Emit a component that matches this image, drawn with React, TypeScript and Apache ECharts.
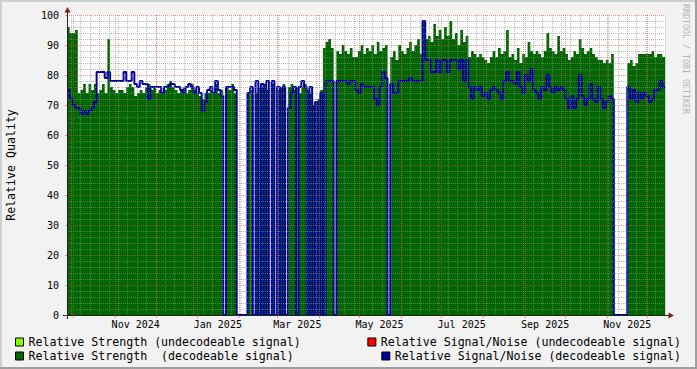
import React, { useEffect, useRef } from "react";
import * as echarts from "echarts";

// ---- time frame: one value every 2 days, starting Sep 26 2024 ----
const START_UTC = Date.UTC(2024, 8, 26);
const TOTAL_DAYS = 444;
const STEP_DAYS = 2;

// Relative Strength (decodeable signal), one value per 2-day step
const strengthDecodeable: number[] = [
  96, 94, 94, 95, 74, 75, 77, 74, 77, 75,
  77, 74, 75, 77, 74, 92, 76, 75, 74, 75,
  75, 74, 76, 77, 76, 73, 74, 75, 74, 76,
  77, 75, 76, 74, 75, 74, 75, 77, 78, 76,
  75, 74, 75, 76, 74, 75, 77, 75, 74, 73,
  72, 74, 74, 75, 74, 77, 74, 75, 0, 76,
  75, 77, 74, 0, 0, 0, 0, 74, 75, 0,
  74, 76, 76, 77, 75, 0, 77, 0, 75, 76,
  77, 0, 76, 77, 75, 76, 74, 76, 77, 75,
  74, 70, 71, 72, 75, 89, 91, 92, 89, 0,
  88, 87, 90, 88, 87, 89, 86, 86, 88, 90,
  87, 89, 88, 90, 87, 91, 88, 89, 90, 0,
  86, 88, 85, 90, 88, 87, 89, 91, 88, 90,
  92, 87, 98, 92, 93, 91, 97, 93, 95, 92,
  96, 93, 98, 92, 94, 90, 95, 91, 93, 86,
  88, 87, 86, 87, 86, 85, 84, 86, 88, 86,
  89, 87, 88, 95, 86, 87, 85, 89, 84, 87,
  86, 91, 88, 87, 88, 87, 86, 88, 94, 89,
  88, 87, 93, 88, 89, 87, 85, 86, 88, 87,
  92, 89, 87, 88, 89, 87, 86, 85, 85, 84,
  85, 84, 87, 0, 0, 0, 0, 0, 84, 85,
  83, 84, 87, 87, 87, 87, 87, 88, 86, 87, 87, 86,
];

// Relative Signal/Noise (decodeable signal), one value per 2-day step
const snrDecodeable: number[] = [
  75, 72, 70, 69, 69, 67, 68, 67, 68, 69,
  71, 81, 81, 81, 79, 81, 78, 78, 78, 78,
  78, 81, 78, 78, 81, 77, 76, 78, 77, 77,
  72, 76, 76, 76, 76, 74, 76, 76, 77, 77,
  76, 76, 75, 74, 76, 77, 76, 74, 76, 74,
  68, 71, 75, 76, 74, 78, 75, 73, 0, 76,
  76, 76, 75, 0, 0, 0, 0, 74, 76, 0,
  78, 0, 77, 0, 78, 0, 78, 0, 76, 0,
  76, 0, 69, 74, 76, 0, 76, 78, 76, 0,
  76, 0, 71, 0, 74, 0, 78, 78, 78, 0,
  78, 78, 78, 78, 77, 78, 78, 75, 74, 77,
  76, 76, 76, 76, 72, 70, 76, 81, 79, 0,
  77, 74, 74, 78, 78, 78, 78, 79, 78, 78,
  78, 78, 98, 85, 85, 81, 81, 85, 81, 85,
  85, 81, 85, 85, 85, 82, 85, 78, 85, 76,
  72, 76, 75, 76, 73, 74, 72, 75, 76, 75,
  74, 72, 78, 81, 78, 78, 77, 81, 76, 74,
  80, 78, 82, 75, 74, 72, 76, 75, 80, 76,
  74, 76, 75, 76, 75, 72, 69, 73, 69, 72,
  80, 73, 70, 72, 77, 72, 71, 76, 72, 69,
  71, 73, 72, 0, 0, 0, 0, 0, 76, 72,
  75, 71, 74, 72, 74, 73, 71, 72, 75, 75, 78, 76,
];

// undecodeable signal series carry no data in this period
const strengthUndecodeable: number[] = [];
const snrUndecodeable: number[] = [];

const seriesNames = [
  "Relative Strength (undecodeable signal)",
  "Relative Signal/Noise (undecodeable signal)",
  "Relative Strength  (decodeable signal)",
  "Relative Signal/Noise (decodeable signal)",
];
const seriesColors = ["#80FF00", "#FF0000", "#006600", "#0000A0"];
const monthNames = ["Jan", "Feb", "Mar", "Apr", "May", "Jun", "Jul", "Aug", "Sep", "Oct", "Nov", "Dec"];

const FONT = "'DejaVu Sans Mono', monospace";
const MINOR_GRID = "rgba(143,143,143,0.6)";
const MAJOR_GRID = "rgba(222,79,79,0.6)";

const dayDates: Date[] = Array.from({ length: TOTAL_DAYS + 1 }, (_, k) => new Date(START_UTC + k * 86400000));
const dayCats: string[] = dayDates.map((d) => d.toISOString().slice(0, 10));

function toSteps(vals: number[]): number[][] {
  if (!vals.length) return [];
  const pts = vals.map((v, i) => [i * STEP_DAYS, v]);
  pts.push([vals.length * STEP_DAYS, vals[vals.length - 1]]);
  return pts;
}

export default function App() {
  const ref = useRef<HTMLDivElement>(null);
  useEffect(() => {
    if (!ref.current) return;
    const chart = echarts.init(ref.current, undefined, { renderer: "svg" });
    const isMonthStart = (i: number) => dayDates[i].getUTCDate() === 1;
    const isWeekStart = (i: number) => dayDates[i].getUTCDay() === 0;
    const isLabelDay = (i: number) => dayDates[i].getUTCDate() === 16 && dayDates[i].getUTCMonth() % 2 === 0;

    const legendBase = {
      icon: "rect",
      itemWidth: 8,
      itemHeight: 8,
      padding: 0,
      selectedMode: false,
      textStyle: { fontFamily: FONT, fontSize: 11.6, color: "#000" },
    };
    const legendItem = (k: number) => ({
      name: seriesNames[k],
      itemStyle: { color: seriesColors[k], borderColor: "#000", borderWidth: 1 },
    });

    chart.setOption({
      animation: false,
      backgroundColor: "#F2F2F2",
      grid: { left: 67, top: 15, width: 598, height: 300, show: true, backgroundColor: "#FFFFFF", borderWidth: 0 },
      xAxis: [
        { type: "value", position: "bottom", min: 0, max: TOTAL_DAYS, show: false },
        {
          type: "category",
          position: "bottom",
          data: dayCats,
          boundaryGap: false,
          z: 6,
          axisLine: { show: true, onZero: false, lineStyle: { color: "#222", width: 1 } },
          axisTick: { show: true, length: 3, interval: (i: number) => isMonthStart(i), lineStyle: { color: MAJOR_GRID } },
          axisLabel: {
            show: true,
            interval: (i: number) => isLabelDay(i),
            margin: 4,
            fontFamily: FONT,
            fontSize: 10,
            color: "#000",
            formatter: (v: string) => {
              const d = new Date(v + "T00:00:00Z");
              return monthNames[d.getUTCMonth()] + " " + d.getUTCFullYear();
            },
          },
          splitLine: { show: true, interval: (i: number) => isMonthStart(i), lineStyle: { color: MAJOR_GRID, type: [1, 1], width: 1 } },
        },
        {
          type: "category",
          position: "bottom",
          data: dayCats,
          boundaryGap: false,
          z: 5,
          axisLine: { show: false, onZero: false },
          axisTick: { show: false },
          axisLabel: { show: false },
          splitLine: { show: true, interval: (i: number) => isWeekStart(i), lineStyle: { color: MINOR_GRID, type: [1, 1], width: 1 } },
        },
      ],
      yAxis: {
        type: "value",
        position: "left",
        min: 0,
        max: 100,
        interval: 10,
        z: 6,
        axisLine: { show: true, lineStyle: { color: "#222", width: 1 } },
        axisTick: { show: true, length: 2, lineStyle: { color: MAJOR_GRID } },
        axisLabel: { margin: 8, fontFamily: FONT, fontSize: 10, color: "#000" },
        splitLine: { show: true, lineStyle: { color: MAJOR_GRID, type: [1, 1], width: 1 } },
        minorTick: { show: false, splitNumber: 5 },
        minorSplitLine: { show: true, lineStyle: { color: MINOR_GRID, type: [1, 1], width: 1 } },
      },
      legend: [
        { ...legendBase, left: 15, top: 336, data: [legendItem(0)] },
        { ...legendBase, right: 16, top: 336, data: [legendItem(1)] },
        { ...legendBase, left: 15, top: 350, data: [legendItem(2)] },
        { ...legendBase, right: 16, top: 350, data: [legendItem(3)] },
      ],
      series: [
        {
          name: seriesNames[2],
          type: "line",
          step: "end",
          xAxisIndex: 0,
          data: toSteps(strengthDecodeable),
          showSymbol: false,
          lineStyle: { width: 0, color: seriesColors[2] },
          itemStyle: { color: seriesColors[2] },
          areaStyle: { color: seriesColors[2], opacity: 1 },
          z: 2,
        },
        {
          name: seriesNames[0],
          type: "line",
          step: "end",
          xAxisIndex: 0,
          data: toSteps(strengthUndecodeable),
          showSymbol: false,
          lineStyle: { width: 0, color: seriesColors[0] },
          itemStyle: { color: seriesColors[0] },
          areaStyle: { color: seriesColors[0], opacity: 1 },
          z: 2,
        },
        {
          name: seriesNames[1],
          type: "line",
          step: "end",
          xAxisIndex: 0,
          data: toSteps(snrUndecodeable),
          showSymbol: false,
          lineStyle: { width: 2, color: seriesColors[1] },
          itemStyle: { color: seriesColors[1] },
          z: 3,
        },
        {
          name: seriesNames[3],
          type: "line",
          step: "end",
          xAxisIndex: 0,
          data: toSteps(snrDecodeable),
          showSymbol: false,
          lineStyle: { width: 2, color: seriesColors[3] },
          itemStyle: { color: seriesColors[3] },
          z: 3,
        },
      ],
      graphic: [
        { type: "rect", silent: true, shape: { x: 0, y: 0, width: 697, height: 2 }, style: { fill: "#CFCFCF" } },
        { type: "rect", silent: true, shape: { x: 0, y: 0, width: 2, height: 369 }, style: { fill: "#CFCFCF" } },
        { type: "rect", silent: true, shape: { x: 0, y: 367, width: 697, height: 2 }, style: { fill: "#9E9E9E" } },
        { type: "rect", silent: true, shape: { x: 695, y: 0, width: 2, height: 369 }, style: { fill: "#9E9E9E" } },
        { type: "line", silent: true, shape: { x1: 67.5, y1: 15, x2: 67.5, y2: 10 }, style: { stroke: "#222", lineWidth: 1 } },
        { type: "line", silent: true, shape: { x1: 67.5, y1: 315, x2: 67.5, y2: 319 }, style: { stroke: "#222", lineWidth: 1 } },
        { type: "line", silent: true, shape: { x1: 63, y1: 315.5, x2: 67, y2: 315.5 }, style: { stroke: "#222", lineWidth: 1 } },
        { type: "line", silent: true, shape: { x1: 665, y1: 315.5, x2: 669, y2: 315.5 }, style: { stroke: "#222", lineWidth: 1 } },
        { type: "polygon", silent: true, shape: { points: [[64.5, 12.5], [70.5, 12.5], [67.5, 7]] }, style: { fill: "#801F1F" } },
        { type: "polygon", silent: true, shape: { points: [[668.5, 312.5], [668.5, 318.5], [674, 315.5]] }, style: { fill: "#801F1F" } },
        {
          type: "text",
          silent: true,
          x: 11,
          y: 165,
          rotation: Math.PI / 2,
          style: { text: "Relative Quality", font: "11.6px " + FONT, fill: "#000", align: "center", verticalAlign: "middle" },
        },
        {
          type: "text",
          silent: true,
          x: 686,
          y: 59,
          rotation: -Math.PI / 2,
          style: { text: "RRDTOOL / TOBI OETIKER", font: "8.3px " + FONT, fill: "#B4B4B4", align: "center", verticalAlign: "middle" },
        },
      ],
    });
    return () => chart.dispose();
  }, []);
  return <div ref={ref} style={{ position: "fixed", left: 0, top: 0, width: 697, height: 369 }} />;
}
